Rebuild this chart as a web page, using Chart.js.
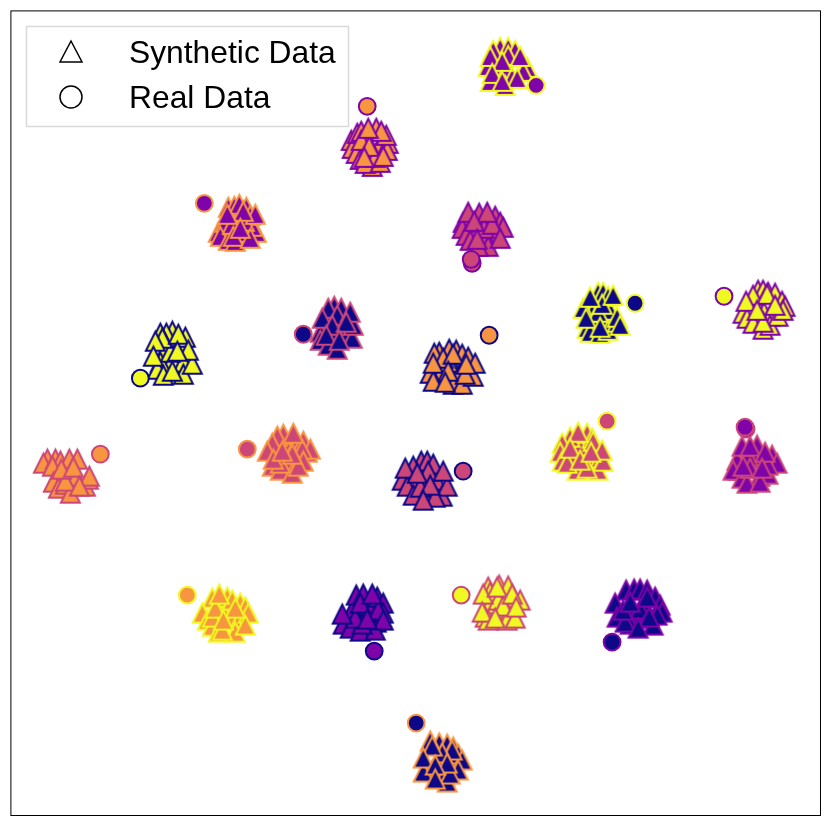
<!DOCTYPE html>
<html>
<head>
<meta charset="utf-8">
<style>
  html, body { margin: 0; padding: 0; background: #fff; }
  canvas { display: block; }
</style>
<script src="https://cdn.jsdelivr.net/npm/chart.js@4/dist/chart.umd.min.js"></script>
</head>
<body>
<canvas id="tsneChart" width="831" height="826"></canvas>
<script>
// plasma colours used by the clusters
const navy = "#0d0887", purple = "#7e03a8", pink = "#cc4778", orange = "#f89540", yellow = "#f0f921";

const legendLabels = ["Synthetic Data", "Real Data"];

// fill / edge of each cluster, same order as synthetic and realPoints
const fills = [purple, orange, purple, pink, navy, yellow, navy, orange, yellow, pink, purple, orange, pink, pink, orange, yellow, purple, navy, navy];
const edges = [yellow, purple, orange, purple, yellow, purple, pink, navy, navy, yellow, pink, pink, orange, navy, yellow, pink, navy, purple, orange];

// real samples, one or two per cluster
const realPoints = [
    [[536, 85]],
    [[367, 106]],
    [[204, 203]],
    [[472, 263], [471, 259]],
    [[635, 303]],
    [[724, 296]],
    [[303, 334]],
    [[489, 335]],
    [[140, 378]],
    [[607, 421]],
    [[746, 429], [745, 427]],
    [[100, 454]],
    [[247, 449]],
    [[463, 471]],
    [[187, 595]],
    [[461, 595]],
    [[374, 651]],
    [[612, 642]],
    [[416, 723]]
];

// synthetic samples, topmost last
const synthA = [[498,76],[510,74],[500,47],[508,47],[515,50],[493,50],[527,67],[488,66],[523,71],[507,68],[490,81],[505,85],[512,77],[508,55],[490,56],[520,56],[502,61],[492,73],[517,78],[502,81]];
const synthB = [[372,150],[366,152],[378,148],[372,160],[351,140],[352,148],[357,133],[361,131],[388,143],[387,150],[386,135],[356,153],[360,159],[372,166],[365,163],[380,162],[375,157],[376,128],[381,131],[361,140],[369,146],[368,128],[383,156],[364,157]];
const synthC = [[238,232],[222,228],[218,232],[225,222],[220,236],[228,240],[235,241],[256,232],[252,226],[228,207],[234,206],[239,204],[246,207],[250,215],[232,224],[244,221],[233,236],[255,214],[243,211],[250,238],[227,214],[240,228]];
const synthD = [[480,228],[490,236],[472,232],[463,222],[462,228],[466,235],[470,240],[479,213],[495,216],[500,222],[503,227],[496,233],[486,238],[488,246],[478,246],[484,228],[492,224],[468,212],[487,212],[474,221],[477,239],[500,238]];
const synthE = [[604,318],[596,322],[610,310],[592,312],[598,292],[603,292],[608,296],[583,308],[587,328],[590,332],[600,333],[608,330],[617,322],[617,317],[598,312],[602,304],[613,295],[590,297],[586,318],[600,327],[620,325]];
const synthF = [[764,312],[770,316],[755,318],[758,290],[763,290],[768,292],[775,293],[782,301],[785,306],[743,313],[747,318],[753,323],[763,329],[770,325],[778,316],[783,310],[753,295],[763,322],[746,301],[767,294],[775,305],[757,310]];
const synthG = [[335,335],[345,332],[330,318],[342,318],[334,306],[341,308],[328,308],[320,332],[320,340],[328,345],[337,349],[352,338],[353,325],[337,315],[322,318],[350,312],[332,325],[346,322],[326,335],[339,340]];
const synthH = [[452,366],[458,376],[440,374],[448,362],[449,349],[439,352],[434,353],[456,350],[462,354],[468,357],[443,358],[430,373],[433,381],[453,384],[462,384],[473,376],[465,374],[475,363],[453,354],[433,363],[448,371],[466,364],[445,382]];
const synthI = [[165,350],[172,360],[183,362],[160,362],[180,342],[172,331],[166,333],[160,333],[185,337],[157,369],[163,375],[183,374],[192,364],[170,352],[162,338],[178,334],[155,341],[153,356],[188,350],[177,351],[172,371]];
const synthJ = [[580,446],[590,462],[572,456],[600,458],[587,433],[592,438],[570,437],[562,443],[560,452],[562,461],[577,470],[598,470],[603,461],[593,441],[578,432],[602,450],[587,468],[567,463],[570,448],[580,460],[591,452]];
const synthK = [[755,458],[748,456],[760,476],[738,470],[757,445],[772,455],[777,463],[737,460],[733,470],[742,478],[747,483],[750,468],[768,474],[768,465],[743,466],[742,446],[760,482],[750,446],[765,452],[762,468]];
const synthL = [[68,478],[60,478],[75,476],[47,459],[43,463],[55,459],[60,461],[69,459],[52,466],[53,482],[58,488],[65,484],[70,493],[65,481],[85,486],[88,479],[77,459],[61,469],[73,467],[89,476],[79,486]];
const synthM = [[290,462],[286,446],[296,444],[283,434],[277,436],[272,443],[267,451],[272,466],[280,470],[292,473],[307,452],[303,441],[310,449],[302,449],[303,461],[280,463],[298,466],[292,454],[273,459],[282,451],[293,433]];
const synthN = [[425,478],[436,480],[412,482],[430,492],[421,461],[427,461],[433,464],[413,466],[402,480],[407,486],[413,495],[420,487],[442,496],[447,486],[435,497],[405,468],[428,471],[443,471],[417,473],[430,485],[423,500]];
const synthO = [[225,612],[232,620],[240,618],[220,606],[212,598],[227,597],[232,600],[240,603],[245,607],[248,613],[202,613],[207,620],[212,626],[218,632],[235,632],[245,625],[212,617],[222,630],[215,608],[219,594],[235,608],[223,620]];
const synthP = [[498,612],[506,598],[490,604],[508,614],[488,587],[499,585],[508,586],[490,592],[520,600],[485,617],[507,620],[515,618],[498,600],[488,620],[503,606],[483,594],[482,612],[497,587],[512,594],[516,607],[495,618]];
const synthQ = [[368,606],[352,610],[376,622],[356,622],[356,595],[363,594],[377,597],[383,603],[383,613],[378,610],[343,624],[350,628],[360,631],[375,630],[383,620],[362,624],[355,618],[342,614],[360,603],[372,594],[367,619]];
const synthR = [[640,618],[632,612],[646,608],[630,624],[626,590],[634,589],[640,589],[647,590],[655,597],[660,605],[662,612],[615,603],[617,617],[625,622],[653,625],[657,615],[640,609],[623,610],[630,602],[647,597],[649,617],[638,628]];
const synthS = [[440,760],[432,770],[444,776],[452,762],[439,743],[430,741],[447,744],[453,747],[458,754],[462,760],[452,750],[423,772],[447,782],[458,770],[442,753],[450,774],[432,746],[423,758],[447,763],[435,765],[435,779]];

const synthetic = [synthA, synthB, synthC, synthD, synthE, synthF, synthG, synthH, synthI, synthJ, synthK, synthL, synthM, synthN, synthO, synthP, synthQ, synthR, synthS];

// Chart.js triangles are flatter than the reference's, so use a canvas marker
function triangleMarker(fill, edge, size, lineWidth) {
    const c = document.createElement("canvas");
    c.width = c.height = Math.ceil(size + lineWidth * 6);
    const ctx = c.getContext("2d");
    const m = c.width / 2;
    ctx.beginPath();
    ctx.moveTo(m, m - size / 2);
    ctx.lineTo(m + size / 2, m + size / 2);
    ctx.lineTo(m - size / 2, m + size / 2);
    ctx.closePath();
    ctx.fillStyle = fill;
    ctx.fill();
    ctx.lineJoin = "miter";
    ctx.lineWidth = lineWidth;
    ctx.strokeStyle = edge;
    ctx.stroke();
    return c;
}

const toXY = p => ({ x: p[0], y: p[1] });

const datasets = [];
// first dataset is painted last, so the real points go in front
realPoints.forEach((pts, i) => datasets.push({
    label: legendLabels[1],
    data: pts.map(toXY),
    pointStyle: "circle",
    pointRadius: 8.4,
    pointBackgroundColor: fills[i],
    pointBorderColor: edges[i],
    pointBorderWidth: 2
}));
synthetic.forEach((pts, i) => datasets.push({
    label: legendLabels[0],
    data: pts.map(toXY),
    pointStyle: triangleMarker(fills[i], edges[i], 19, 2)
}));

// axes frame and the legend box
const frameAndLegend = {
    id: "frameAndLegend",
    afterDraw(chart) {
        const { ctx, chartArea: a } = chart;
        ctx.save();
        ctx.strokeStyle = "#000";
        ctx.lineWidth = 1;
        ctx.strokeRect(a.left + 0.5, a.top + 0.5, a.right - a.left, a.bottom - a.top);

        ctx.fillStyle = "rgba(255,255,255,0.8)";
        ctx.fillRect(26, 26, 323, 101);
        ctx.strokeStyle = "#d9d9d9";
        ctx.lineWidth = 1.5;
        ctx.strokeRect(26.5, 26.5, 322, 100);

        ctx.strokeStyle = "#000";
        ctx.lineWidth = 1.5;
        ctx.lineJoin = "miter";
        ctx.beginPath();
        ctx.moveTo(71, 41);
        ctx.lineTo(82, 62);
        ctx.lineTo(60, 62);
        ctx.closePath();
        ctx.stroke();
        ctx.beginPath();
        ctx.arc(71, 97, 11, 0, Math.PI * 2);
        ctx.stroke();

        ctx.fillStyle = "#000";
        ctx.font = '31.8px "Liberation Sans", Arial, sans-serif';
        ctx.textBaseline = "alphabetic";
        ctx.fillText(legendLabels[0], 129, 63);
        ctx.fillText(legendLabels[1], 129, 108);
        ctx.restore();
    }
};

new Chart(document.getElementById("tsneChart"), {
    type: "scatter",
    data: { datasets },
    options: {
        responsive: false,
        animation: false,
        layout: { padding: { left: 10, right: 11, top: 10, bottom: 11 } },
        scales: {
            x: { type: "linear", min: 10, max: 820, display: false },
            y: { type: "linear", min: 10, max: 815, reverse: true, display: false }
        },
        plugins: { legend: { display: false }, tooltip: { enabled: false } }
    },
    plugins: [frameAndLegend]
});
</script>
</body>
</html>
